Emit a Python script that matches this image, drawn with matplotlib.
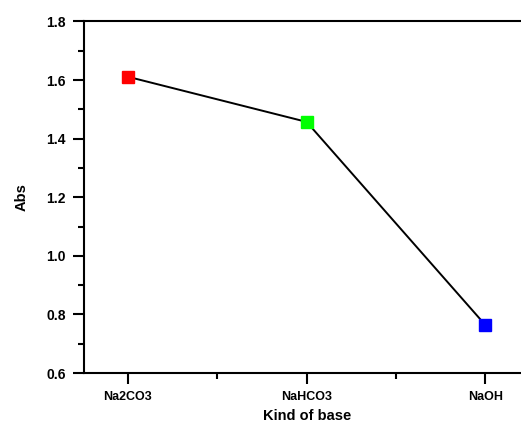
import matplotlib
matplotlib.use("Agg")
import matplotlib.pyplot as plt
from matplotlib.ticker import MultipleLocator

bases = ["Na2CO3", "NaHCO3", "NaOH"]
absorbance = [1.611, 1.457, 0.764]
couleurs = ["#ff0000", "#00ff00", "#0000ff"]

plt.rcParams["font.family"] = ["Liberation Sans", "DejaVu Sans"]
plt.rcParams["font.weight"] = "bold"

fig = plt.figure(figsize=(5.21, 4.28), dpi=100)
ax = fig.add_axes([0.1612, 0.1285, 0.856, 0.8215])

x = list(range(1, len(bases) + 1))
ax.plot(x, absorbance, color="black", linewidth=1.4, zorder=2)
for xi, yi, c in zip(x, absorbance, couleurs):
    ax.plot(xi, yi, marker="s", markersize=9, color=c, markeredgecolor=c,
            linestyle="none", zorder=3)

ax.set_xlim(0.754, 3.25)
ax.set_ylim(0.6, 1.8)
ax.set_xticks(x)
ax.set_xticklabels(bases, fontsize=9, fontweight="bold")
ax.xaxis.set_minor_locator(plt.FixedLocator([1.5, 2.5]))
ax.yaxis.set_major_locator(MultipleLocator(0.2))
ax.yaxis.set_minor_locator(MultipleLocator(0.1))
ax.yaxis.set_major_formatter(plt.FuncFormatter(lambda v, p: f"{v:.1f}"))
for lab in ax.get_yticklabels():
    lab.set_fontweight("bold")
    lab.set_fontsize(10)

ax.tick_params(which="major", direction="out", length=8, width=1.5, pad=5)
ax.tick_params(which="minor", direction="out", length=4, width=1.5)
for s in ax.spines.values():
    s.set_linewidth(1.5)
ax.spines["right"].set_visible(False)  # hors image dans l'original

ax.set_xlabel("Kind of base", fontsize=10.5, fontweight="bold", labelpad=4)
ax.set_ylabel("Abs", fontsize=10.5, fontweight="bold", labelpad=13)

fig.savefig("out.png", dpi=100)
